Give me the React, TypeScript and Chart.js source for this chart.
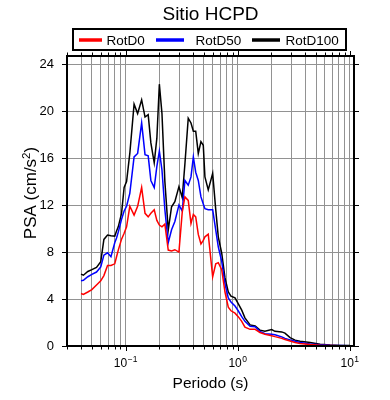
import React, { useEffect, useRef } from "react";
import { Chart, registerables } from "chart.js";

Chart.register(...registerables);

const PERIODS = [0.040,0.042,0.046,0.050,0.055,0.060,0.064,0.069,0.074,0.080,0.083,0.086,0.092,0.097,0.102,0.109,0.119,0.128,0.139,0.149,0.159,0.168,0.180,0.190,0.200,0.211,0.224,0.240,0.257,0.275,0.299,0.320,0.338,0.362,0.383,0.402,0.422,0.445,0.470,0.493,0.510,0.546,0.598,0.637,0.671,0.720,0.770,0.824,0.871,0.946,1.01,1.086,1.16,1.29,1.43,1.58,1.75,2.01,2.15,2.47,2.64,2.93,3.25,3.6,4.43,5.43,6.67,8.19,10.06];

const ROTD100 = [6.12,6.03,6.35,6.5,6.7,7.17,9.08,9.45,9.4,9.36,9.8,10.15,11.3,13.5,14.0,16.4,20.6,19.8,20.96,19.5,19.7,17.3,15.6,17.7,22.3,19.8,14.0,9.87,11.86,12.3,13.57,12.65,15.5,19.4,19.0,18.3,18.3,16.4,17.4,17.1,14.4,13.3,14.7,11.6,9.3,7.9,5.8,4.6,4.25,4.1,3.6,3.05,2.4,1.8,1.7,1.35,1.25,1.4,1.25,1.2,1.1,0.72,0.5,0.4,0.3,0.15,0.08,0.05,0.04];

const ROTD50 = [5.55,5.6,5.9,6.1,6.3,6.74,7.74,7.94,7.6,8.8,9.2,9.7,10.8,11.5,11.9,13.0,16.1,16.4,19.0,16.3,16.2,14.1,13.5,15.3,16.6,15.0,11.6,8.8,9.9,10.6,12.0,11.5,14.1,13.7,14.4,16.1,14.8,14.1,12.7,12.1,11.7,11.6,11.6,9.87,8.45,7.2,5.3,4.1,3.75,3.4,3.0,2.5,2.1,1.68,1.65,1.25,1.05,1.0,0.95,0.78,0.65,0.52,0.4,0.3,0.18,0.1,0.06,0.04,0.03];

const ROTD0 = [4.47,4.4,4.6,4.8,5.2,5.55,6.0,6.86,6.86,7.0,7.6,8.17,9.1,9.6,10.15,11.9,11.15,11.9,13.5,11.3,11.0,11.3,11.6,10.7,10.3,10.15,10.38,8.17,8.1,8.2,8.0,11.4,12.7,12.4,10.44,11.2,11.0,9.5,8.7,9.0,9.3,9.53,5.9,7.0,7.1,6.5,4.6,3.3,3.0,2.8,2.5,2.1,1.6,1.42,1.42,1.15,1.0,0.88,0.8,0.65,0.55,0.42,0.3,0.22,0.12,0.06,0.04,0.03,0.02];

const X_TICKS = [0.03,0.04,0.05,0.06,0.07,0.08,0.09,0.1,0.2,0.3,0.4,0.5,0.6,0.7,0.8,0.9,1,2,3,4,5,6,7,8,9,10];
const X_MAJOR = [0.1, 1, 10];
const X_MAJOR_EXP = ["\u22121", "0", "1"];
const Y_TICKS = [0, 4, 8, 12, 16, 20, 24];

const SERIES_NAMES = ["RotD0", "RotD50", "RotD100"];
const SERIES_COLORS = ["#ff0000", "#0000ff", "#000000"];

const FONT = "'Liberation Sans', Arial, Helvetica, sans-serif";

const decorPlugin = {
  id: "decor",
  afterDraw(chart: any) {
    const ctx = chart.ctx;
    const a = chart.chartArea;
    const xs = chart.scales.x;
    const ys = chart.scales.y;
    ctx.save();
    // frame
    ctx.strokeStyle = "#000";
    ctx.lineWidth = 2;
    ctx.strokeRect(a.left, a.top, a.right - a.left, a.bottom - a.top);
    // x ticks
    ctx.lineWidth = 1;
    X_TICKS.forEach((v) => {
      const px = Math.round(xs.getPixelForValue(v)) + 0.5;
      const len = X_MAJOR.includes(v) ? 5 : 3.5;
      ctx.beginPath();
      ctx.moveTo(px, a.bottom);
      ctx.lineTo(px, a.bottom + len);
      ctx.moveTo(px, a.top);
      ctx.lineTo(px, a.top - len);
      ctx.stroke();
    });
    // y ticks
    Y_TICKS.forEach((v) => {
      const py = Math.round(ys.getPixelForValue(v)) + 0.5;
      ctx.beginPath();
      ctx.moveTo(a.left - 5, py);
      ctx.lineTo(a.left, py);
      ctx.moveTo(a.right, py);
      ctx.lineTo(a.right + 5, py);
      ctx.stroke();
    });
    // x tick labels with superscripts
    ctx.fillStyle = "#000";
    ctx.textBaseline = "alphabetic";
    X_MAJOR.forEach((v, i) => {
      const px = xs.getPixelForValue(v);
      ctx.font = `12px ${FONT}`;
      const w1 = ctx.measureText("10").width;
      ctx.font = `8.5px ${FONT}`;
      const w2 = ctx.measureText(X_MAJOR_EXP[i]).width;
      const x0 = px - (w1 + w2 + 0.5) / 2;
      ctx.textAlign = "left";
      ctx.font = `12px ${FONT}`;
      ctx.fillText("10", x0, 367);
      ctx.font = `8.5px ${FONT}`;
      ctx.fillText(X_MAJOR_EXP[i], x0 + w1 + 0.5, 362);
    });
    // x title
    ctx.font = `15.5px ${FONT}`;
    ctx.textAlign = "center";
    ctx.fillText("Periodo (s)", (a.left + a.right) / 2, 388);
    // y title
    ctx.save();
    ctx.translate(36, 193);
    ctx.rotate(-Math.PI / 2);
    ctx.font = `17px ${FONT}`;
    const t1 = "PSA (cm/s";
    const wA = ctx.measureText(t1).width;
    ctx.font = `11.5px ${FONT}`;
    const wB = ctx.measureText("2").width;
    ctx.font = `17px ${FONT}`;
    const wC = ctx.measureText(")").width;
    const total = wA + wB + wC;
    let sx = -total / 2;
    ctx.textAlign = "left";
    ctx.fillText(t1, sx, 0);
    sx += wA;
    ctx.font = `11.5px ${FONT}`;
    ctx.fillText("2", sx, -6.5);
    sx += wB;
    ctx.font = `17px ${FONT}`;
    ctx.fillText(")", sx, 0);
    ctx.restore();
    // title
    ctx.font = `19px ${FONT}`;
    ctx.textAlign = "center";
    ctx.fillText("Sitio HCPD", (a.left + a.right) / 2, 20);
    // legend box
    ctx.lineWidth = 2;
    ctx.strokeStyle = "#000";
    ctx.strokeRect(73, 29, 273, 21);
    const legendLines = [[79, 102], [156, 184], [252, 280]];
    const legendText = [106.5, 195.5, 285.5];
    ctx.font = `13.5px ${FONT}`;
    ctx.textAlign = "left";
    SERIES_NAMES.forEach((n, i) => {
      ctx.strokeStyle = SERIES_COLORS[i];
      ctx.lineWidth = 3.5;
      ctx.beginPath();
      ctx.moveTo(legendLines[i][0], 40);
      ctx.lineTo(legendLines[i][1], 40);
      ctx.stroke();
      ctx.fillStyle = "#000";
      ctx.fillText(n, legendText[i], 45);
    });
    ctx.restore();
  },
};

export default function App() {
  const ref = useRef<HTMLCanvasElement | null>(null);
  useEffect(() => {
    if (!ref.current) return;
    const series = [ROTD0, ROTD50, ROTD100];
    const chart = new Chart(ref.current, {
      type: "line",
      data: {
        datasets: series.map((s, i) => ({
          label: SERIES_NAMES[i],
          data: PERIODS.map((p, j) => ({ x: p, y: s[j] })),
          borderColor: SERIES_COLORS[i],
          borderWidth: 1.5,
          pointRadius: 0,
          tension: 0,
          fill: false,
        })),
      },
      options: {
        animation: false,
        responsive: false,
        events: [],
        layout: { padding: { left: 0, right: 36, top: 56, bottom: 54 } },
        plugins: { legend: { display: false }, title: { display: false }, tooltip: { enabled: false } },
        scales: {
          x: {
            type: "logarithmic",
            min: 0.03,
            max: 10.9,
            afterBuildTicks: (scale: any) => {
              scale.ticks = X_TICKS.map((v) => ({ value: v }));
            },
            afterFit: (scale: any) => {
              scale.height = 0;
            },
            ticks: { display: false },
            grid: { color: "#929292", lineWidth: 1, drawTicks: false },
            border: { display: false },
          },
          y: {
            type: "linear",
            min: 0,
            max: 24.7,
            afterBuildTicks: (scale: any) => {
              scale.ticks = Y_TICKS.map((v) => ({ value: v }));
            },
            afterFit: (scale: any) => {
              scale.width = 67;
            },
            ticks: {
              color: "#000",
              font: { family: FONT, size: 13 },
              padding: 13,
            },
            grid: { color: "#929292", lineWidth: 1, drawTicks: false },
            border: { display: false },
          },
        },
      },
      plugins: [decorPlugin],
    });
    return () => chart.destroy();
  }, []);
  return (
    <div style={{ position: "absolute", left: 0, top: 0, width: 390, height: 400, background: "#fff" }}>
      <canvas ref={ref} width={390} height={400} />
    </div>
  );
}
